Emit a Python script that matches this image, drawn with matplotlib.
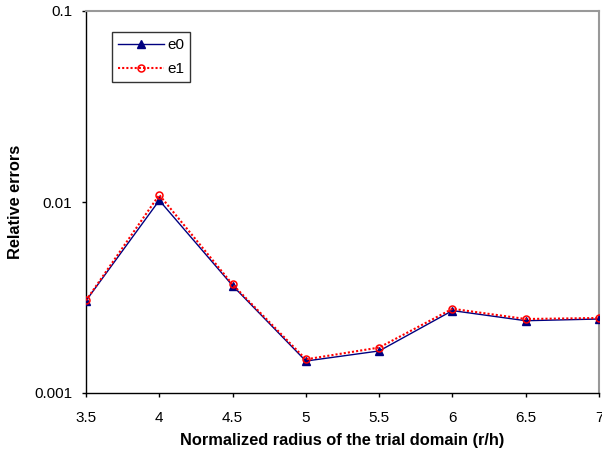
import matplotlib
matplotlib.use("Agg")
import matplotlib.pyplot as plt
from matplotlib.ticker import FixedLocator, NullLocator

plt.rcParams['font.family'] = ['Liberation Sans', 'DejaVu Sans']

radius = [3.5, 4.0, 4.5, 5.0, 5.5, 6.0, 6.5, 7.0]
e0 = [0.00304, 0.0102, 0.00365, 0.00147, 0.00166, 0.00270, 0.00239, 0.00244]
e1 = [0.00305, 0.0109, 0.00370, 0.00150, 0.00173, 0.00276, 0.00244, 0.00247]
xticks = [3.5, 4, 4.5, 5, 5.5, 6, 6.5, 7]
xtick_labels = ["3.5", "4", "4.5", "5", "5.5", "6", "6.5", "7"]
yticks = [0.001, 0.01, 0.1]
ytick_labels = ["0.001", "0.01", "0.1"]

fig = plt.figure(figsize=(6.02, 4.59), dpi=100)
ax = fig.add_axes([86 / 602, 1 - 393 / 459, (599 - 86) / 602, (393 - 11) / 459])

ax.plot(radius, e0, color="#000080", lw=1.0, marker="^", ms=5.5,
        markerfacecolor="#000080", markeredgecolor="#000080", label="e0", zorder=3)
ax.plot(radius, e1, color="#ff0000", lw=1.5, ls=(0, (1, 1)), marker="o", ms=5,
        markerfacecolor="none", markeredgecolor="#ff0000", markeredgewidth=1.1,
        label="e1", zorder=4)

ax.set_yscale("log")
ax.set_xlim(3.5, 7)
ax.set_ylim(0.001, 0.1)
ax.xaxis.set_major_locator(FixedLocator(xticks))
ax.set_xticklabels(xtick_labels)
ax.yaxis.set_major_locator(FixedLocator(yticks))
ax.yaxis.set_minor_locator(NullLocator())
ax.set_yticklabels(ytick_labels)

ax.tick_params(axis="both", direction="out", length=3, width=1, colors="black",
               labelsize=11)
ax.tick_params(axis="x", pad=10)
ax.tick_params(axis="y", pad=7)
for side in ("left", "bottom"):
    ax.spines[side].set_color("black")
    ax.spines[side].set_linewidth(1.0)
for side in ("top", "right"):
    ax.spines[side].set_color("#999999")
    ax.spines[side].set_linewidth(1.5)

ax.set_xlabel("Normalized radius of the trial domain (r/h)", fontsize=11.8,
              fontweight="bold")
ax.set_ylabel("Relative errors", fontsize=11.8, fontweight="bold")
ax.xaxis.set_label_coords(0.5, -(433 - 393) / 382)
ax.yaxis.set_label_coords(-(86 - 23) / 513, 0.5)

leg = ax.legend(loc="upper left", bbox_to_anchor=(26 / 513, 1 - 21 / 382),
                frameon=True, fancybox=False, fontsize=11, handlelength=3.0,
                borderpad=0.4, labelspacing=0.65, handletextpad=0.2,
                borderaxespad=0)
leg.get_frame().set_edgecolor("black")
leg.get_frame().set_linewidth(1.0)

fig.savefig("out.png", dpi=100)
